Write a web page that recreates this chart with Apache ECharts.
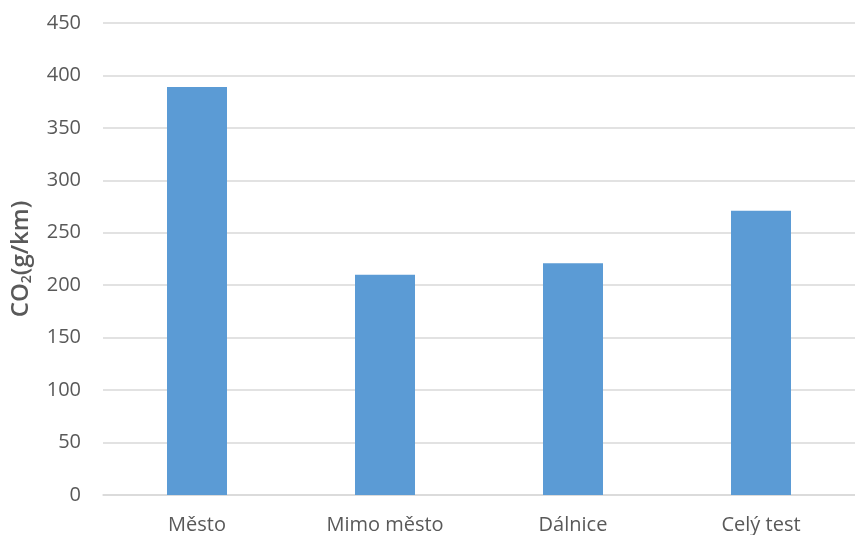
<!DOCTYPE html>
<html><head><meta charset="utf-8">
<script src="https://cdn.jsdelivr.net/npm/echarts@6/dist/echarts.min.js"></script>
<style>html,body{margin:0;padding:0;background:#fff}#c{width:855px;height:535px}</style>
</head><body><div id="c"></div>
<script>
var categories = ['Město', 'Mimo město', 'Dálnice', 'Celý test'];
var co2Values = [389, 210, 221, 271];
var yTicks = [0, 50, 100, 150, 200, 250, 300, 350, 400, 450];

var chart = echarts.init(document.getElementById('c'), null, {renderer: 'canvas'});
chart.setOption({
  animation: false,
  grid: {left: 101, right: -12, top: 23, bottom: 39},
  xAxis: {
    type: 'category', data: categories,
    axisTick: {show: false},
    axisLine: {lineStyle: {color: '#D9D9D9', width: 1.5}},
    axisLabel: {color: '#595959', fontFamily: 'Open Sans', fontSize: 20, margin: 20}
  },
  yAxis: {
    type: 'value', min: yTicks[0], max: yTicks[yTicks.length - 1], interval: 50,
    axisLine: {show: false}, axisTick: {show: false},
    splitLine: {lineStyle: {color: '#D9D9D9', width: 1.5}},
    axisLabel: {color: '#595959', fontFamily: 'Open Sans', fontSize: 20, margin: 22},
    name: '{a|CO}{b|2}{a|(g/km)}',
    nameLocation: 'middle', nameRotate: 90, nameGap: 68,
    nameTextStyle: {
      rich: {
        a: {color: '#595959', fontFamily: 'Open Sans', fontSize: 24, fontWeight: 600, lineHeight: 28},
        b: {color: '#595959', fontFamily: 'Open Sans', fontSize: 14, fontWeight: 600, padding: [12, 0, 0, 0], lineHeight: 28}
      }
    }
  },
  series: [{
    type: 'bar', data: co2Values, barWidth: 60,
    itemStyle: {color: '#5B9BD5'}
  }]
});
</script></body></html>
